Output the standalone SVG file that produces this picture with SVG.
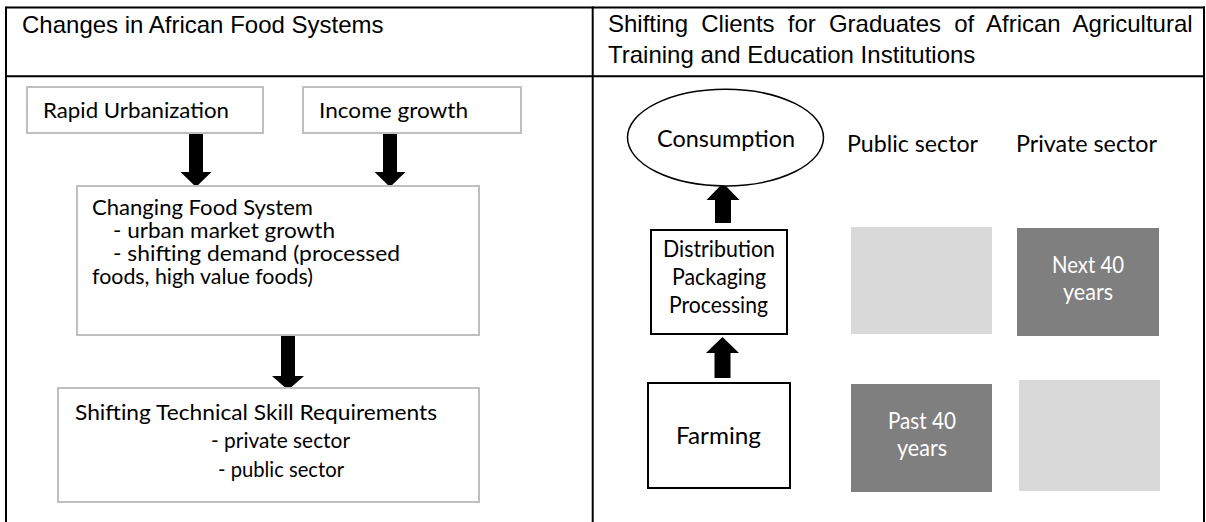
<svg xmlns="http://www.w3.org/2000/svg" width="1206" height="522" viewBox="0 0 1206 522">
<style>
.frame{stroke:#000;stroke-width:2;fill:none}
.hd{font-family:"Liberation Sans",Arial,sans-serif;font-size:24px;fill:#000}
.c{font-family:Lato,"Noto Sans",sans-serif;font-size:21px;fill:#000}
.cr{font-family:Lato,"Noto Sans",sans-serif;font-size:22.5px;fill:#000}
.w{fill:#fff}
.gbox{fill:#fff;stroke:#bfbfbf;stroke-width:2}
.kbox{fill:#fff;stroke:#000;stroke-width:2}
.light{fill:#d9d9d9}
.dark{fill:#7f7f7f}
.arr{fill:#000}
</style>
<rect width="1206" height="522" fill="#fff"/>
<g id="table">
<line class="frame" x1="6" y1="7.5" x2="1205" y2="7.5"/>
<line class="frame" x1="6" y1="6.5" x2="6" y2="522"/>
<line class="frame" x1="1204" y1="6.5" x2="1204" y2="522"/>
<line class="frame" x1="6" y1="76.3" x2="1205" y2="76.3"/>
<line class="frame" x1="592.7" y1="6.5" x2="592.7" y2="522"/>
<text class="hd" x="22" y="33">Changes in African Food Systems</text>
<text class="hd" style="word-spacing:6.5px"><tspan x="608" y="32">Shifting Clients for Graduates of African Agricultural</tspan><tspan x="608" y="63" style="word-spacing:0">Training and Education Institutions</tspan></text>
</g>
<g id="connectors">
<polygon class="arr" points="189,134 203,134 203,172 211.5,172 196,187 180.5,172 189,172"/>
<polygon class="arr" points="383,134 397,134 397,172 405.5,172 390,187 374.5,172 383,172"/>
<polygon class="arr" points="281,336 295,336 295,376 304,376 288,390 272,376 281,376"/>
<polygon class="arr" points="715,223 731,223 731,200 739.5,200 723,183 706.5,200 715,200"/>
<polygon class="arr" points="714.5,378 730.5,378 730.5,353 739,353 722.5,337 706,353 714.5,353"/>
</g>
<g id="rapid">
<rect class="gbox" x="27" y="87" width="236" height="46"/>
<text class="c" x="43" y="118" textLength="186" lengthAdjust="spacingAndGlyphs">Rapid Urbanization</text>
</g>
<g id="income">
<rect class="gbox" x="303" y="87" width="218" height="46"/>
<text class="c" x="319" y="118" textLength="149" lengthAdjust="spacingAndGlyphs">Income growth</text>
</g>
<g id="changing">
<rect class="gbox" x="77" y="186" width="402" height="149"/>
<text class="c"><tspan x="92" y="215" textLength="221" lengthAdjust="spacingAndGlyphs">Changing Food System</tspan><tspan x="113" y="238" textLength="222" lengthAdjust="spacingAndGlyphs">- urban market growth</tspan><tspan x="113" y="261" textLength="287" lengthAdjust="spacingAndGlyphs">- shifting demand (processed</tspan><tspan x="92" y="284" textLength="221" lengthAdjust="spacingAndGlyphs">foods, high value foods)</tspan></text>
</g>
<g id="skills">
<rect class="gbox" x="58" y="388" width="421" height="114"/>
<text class="c"><tspan x="75" y="420" textLength="362" lengthAdjust="spacingAndGlyphs">Shifting Technical Skill Requirements</tspan><tspan x="211" y="448" textLength="139" lengthAdjust="spacingAndGlyphs">- private sector</tspan><tspan x="218" y="477" textLength="126" lengthAdjust="spacingAndGlyphs">- public sector</tspan></text>
</g>
<g id="consumption">
<ellipse cx="725.5" cy="137.6" rx="98" ry="48.3" fill="#fff" stroke="#000" stroke-width="1.5"/>
<text class="cr" x="657" y="147" textLength="138" lengthAdjust="spacingAndGlyphs">Consumption</text>
</g>
<g id="public-label"><text class="cr" x="847" y="152" textLength="131" lengthAdjust="spacingAndGlyphs">Public sector</text></g>
<g id="private-label"><text class="cr" x="1016" y="152" textLength="141" lengthAdjust="spacingAndGlyphs">Private sector</text></g>
<g id="distribution">
<rect class="kbox" x="651" y="230" width="136" height="104"/>
<text class="cr"><tspan x="663" y="257" textLength="112" lengthAdjust="spacingAndGlyphs">Distribution</tspan><tspan x="672" y="285" textLength="94" lengthAdjust="spacingAndGlyphs">Packaging</tspan><tspan x="669" y="313" textLength="99" lengthAdjust="spacingAndGlyphs">Processing</tspan></text>
</g>
<g id="farming">
<rect class="kbox" x="648" y="383" width="142" height="105"/>
<text class="cr" x="676" y="444" textLength="85" lengthAdjust="spacingAndGlyphs">Farming</text>
</g>
<g id="public-next"><rect class="light" x="851" y="227" width="141" height="107"/></g>
<g id="private-next">
<rect class="dark" x="1017" y="228" width="142" height="108"/>
<text class="cr w"><tspan x="1052" y="273" textLength="72" lengthAdjust="spacingAndGlyphs">Next 40</tspan><tspan x="1063" y="300" textLength="50" lengthAdjust="spacingAndGlyphs">years</tspan></text>
</g>
<g id="public-past">
<rect class="dark" x="851" y="384" width="141" height="108"/>
<text class="cr w"><tspan x="888" y="429" textLength="68" lengthAdjust="spacingAndGlyphs">Past 40</tspan><tspan x="897" y="456" textLength="50" lengthAdjust="spacingAndGlyphs">years</tspan></text>
</g>
<g id="private-past"><rect class="light" x="1019" y="380" width="141" height="111"/></g>
</svg>
